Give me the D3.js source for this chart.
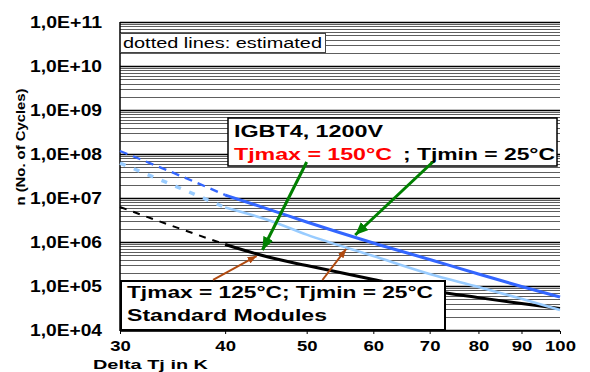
<!DOCTYPE html>
<html><head><meta charset="utf-8">
<script src="https://cdn.jsdelivr.net/npm/d3@7"></script>
<style>body{margin:0;background:#fff} svg{display:block} text{font-family:"Liberation Sans",Arial,Helvetica,sans-serif}</style>
</head><body><svg id="c" width="590" height="372"></svg>
<script>
// ---- data ----
const deltaT = [30, 35, 40, 45, 50, 60, 70, 80, 90, 100];
const igbt4Upper = [1.17e8, 3.5e7, 1.17e7, 5.6e6, 2.85e6, 9.5e5, 4.0e5, 1.87e5, 9.75e4, 5.6e4];
const igbt4Lower = [6.24e7, 1.82e7, 6.08e6, 3.16e6, 1.47e6, 4.8e5, 1.87e5, 9.5e4, 5.1e4, 2.85e4];
const standardModules = [6.24e6, 2.15e6, 8.8e5, 4.56e5, 2.91e5, 1.41e5, 7.9e4, 5.44e4, 3.98e4, 3.08e4];
const estimatedUpTo = 40;
const xTicks = [30, 40, 50, 60, 70, 80, 90, 100];
const yTicks = [1e4, 1e5, 1e6, 1e7, 1e8, 1e9, 1e10, 1e11];
const yTickLabels = ["1,0E+04", "1,0E+05", "1,0E+06", "1,0E+07", "1,0E+08", "1,0E+09", "1,0E+10", "1,0E+11"];
// annotation arrows (data coords): [from, to]
const greenArrows = [[[50.0, 6.58e7], [44.3, 6.58e5]], [[70.6, 6.58e7], [57.1, 1.44e6]]];
const brownArrows = [[[38.7, 1.37e5], [43.6, 4.8e5]], [[52.2, 1.37e5], [55.7, 6.93e5]]];

// ---- layout ----
const L = 120, R = 560, T = 22, B = 330;
const svg = d3.select("#c");
const x = d3.scaleLog().domain([30, 100]).range([L, R]);
const y = d3.scaleLog().domain([1e4, 1e11]).range([B, T]);

// gridlines
const grid = [];
for (let d = 4; d <= 10; d++) for (let m = 1; m <= 9; m++) grid.push(m * Math.pow(10, d));
grid.push(1e11);
const isMajor = d => Math.abs(Math.log10(d) - Math.round(Math.log10(d))) < 1e-9;
svg.append("g").selectAll("line").data(grid).join("line")
  .attr("x1", L).attr("x2", R)
  .attr("y1", d => Math.round(y(d)) + 0.5).attr("y2", d => Math.round(y(d)) + 0.5)
  .attr("stroke", d => isMajor(d) ? "#000" : "#5e5e5e")
  .attr("stroke-width", d => isMajor(d) ? 1.5 : 1.2);

// axes lines
svg.append("line").attr("x1", L).attr("x2", L).attr("y1", T).attr("y2", B + 1).attr("stroke", "#000").attr("stroke-width", 1.5);
svg.append("line").attr("x1", L).attr("x2", R).attr("y1", B + 1).attr("y2", B + 1).attr("stroke", "#000").attr("stroke-width", 1.5);

// y tick labels
const ya = svg.append("g").attr("transform", `translate(${L},0)`)
  .call(d3.axisLeft(y).tickValues(yTicks).tickFormat((d, i) => yTickLabels[i]).tickSize(0).tickPadding(18));
ya.select(".domain").remove();
ya.selectAll("text").attr("font-size", 16).attr("font-weight", "bold").attr("fill", "#000")
  .attr("font-family", "Liberation Sans, Arial, sans-serif")
  .attr("textLength", 72).attr("lengthAdjust", "spacingAndGlyphs").attr("dy", "0.33em");

// x tick labels
const xa = svg.append("g").attr("transform", `translate(0,${B + 1})`)
  .call(d3.axisBottom(x).tickValues(xTicks).tickFormat(d3.format("d")).tickSize(3).tickPadding(7));
xa.select(".domain").remove();
xa.selectAll("line").attr("stroke", "#000");
xa.selectAll("text").attr("font-size", 14.5).attr("font-weight", "bold").attr("fill", "#000")
  .attr("font-family", "Liberation Sans, Arial, sans-serif")
  .attr("textLength", d => String(d).length * 10.3).attr("lengthAdjust", "spacingAndGlyphs");

// axis titles
svg.append("text").attr("x", 93).attr("y", 369).attr("font-size", 13.5).attr("font-weight", "bold")
  .attr("textLength", 115).attr("lengthAdjust", "spacingAndGlyphs").text("Delta Tj in K");
svg.append("text").attr("transform", "translate(25,147) rotate(-90)").attr("text-anchor", "middle")
  .attr("font-size", 13.5).attr("font-weight", "bold")
  .attr("textLength", 117).attr("lengthAdjust", "spacingAndGlyphs").text("n (No. of Cycles)");

// curves
const line = d3.line().x(d => x(d[0])).y(d => y(d[1])).curve(d3.curveMonotoneX);
function drawSeries(vals, color, w, dashW, dash) {
  const pts = deltaT.map((t, i) => [t, vals[i]]);
  svg.append("path").attr("d", line(pts.filter(p => p[0] <= estimatedUpTo)))
    .attr("fill", "none").attr("stroke", color).attr("stroke-width", dashW).attr("stroke-dasharray", dash);
  svg.append("path").attr("d", line(pts.filter(p => p[0] >= estimatedUpTo)))
    .attr("fill", "none").attr("stroke", color).attr("stroke-width", w);
}
drawSeries(standardModules, "#000000", 3, 2, "7,7");
drawSeries(igbt4Lower, "#99ccff", 2.6, 3.5, "6,9");
drawSeries(igbt4Upper, "#3366ff", 3, 2.4, "8,6");

// dotted-lines box
svg.append("rect").attr("x", 120.5).attr("y", 33.5).attr("width", 205).attr("height", 19)
  .attr("fill", "#fff").attr("stroke", "#444").attr("stroke-width", 1);
svg.append("text").attr("x", 123).attr("y", 48).attr("font-size", 14)
  .attr("textLength", 199).attr("lengthAdjust", "spacingAndGlyphs").text("dotted lines: estimated");

// box 1
svg.append("rect").attr("x", 228).attr("y", 118).attr("width", 329).attr("height", 48)
  .attr("fill", "#fff").attr("stroke", "#000").attr("stroke-width", 1.5);
svg.append("text").attr("x", 234).attr("y", 137).attr("font-size", 16).attr("font-weight", "bold")
  .attr("textLength", 149).attr("lengthAdjust", "spacingAndGlyphs").text("IGBT4, 1200V");
svg.append("text").attr("x", 234).attr("y", 160).attr("font-size", 16).attr("font-weight", "bold").attr("fill", "#ff0000")
  .attr("textLength", 158).attr("lengthAdjust", "spacingAndGlyphs").text("Tjmax = 150°C");
svg.append("text").attr("x", 403).attr("y", 160).attr("font-size", 16).attr("font-weight", "bold")
  .attr("textLength", 152).attr("lengthAdjust", "spacingAndGlyphs").text("; Tjmin = 25°C");

// box 2
svg.append("rect").attr("x", 121).attr("y", 281).attr("width", 324).attr("height", 49)
  .attr("fill", "#fff").attr("stroke", "#000").attr("stroke-width", 2);
svg.append("text").attr("x", 127).attr("y", 298).attr("font-size", 17).attr("font-weight", "bold")
  .attr("textLength", 306).attr("lengthAdjust", "spacingAndGlyphs").text("Tjmax = 125°C; Tjmin = 25°C");
svg.append("text").attr("x", 127).attr("y", 321).attr("font-size", 17).attr("font-weight", "bold")
  .attr("textLength", 200).attr("lengthAdjust", "spacingAndGlyphs").text("Standard Modules");

// arrows
const defs = svg.append("defs");
function marker(id, color, len, wid) {
  defs.append("marker").attr("id", id).attr("markerUnits", "userSpaceOnUse")
    .attr("viewBox", `0 0 ${len} ${wid}`).attr("refX", len).attr("refY", wid / 2)
    .attr("markerWidth", len).attr("markerHeight", wid).attr("orient", "auto")
    .append("path").attr("d", `M0,0L${len},${wid / 2}L0,${wid}Z`).attr("fill", color);
}
marker("ag", "#008000", 13, 11);
marker("ab", "#b04a10", 9, 7);
svg.append("g").selectAll("line").data(greenArrows).join("line")
  .attr("x1", d => x(d[0][0])).attr("y1", d => y(d[0][1]))
  .attr("x2", d => x(d[1][0])).attr("y2", d => y(d[1][1]))
  .attr("stroke", "#008000").attr("stroke-width", 3).attr("marker-end", "url(#ag)");
svg.append("g").selectAll("line").data(brownArrows).join("line")
  .attr("x1", d => x(d[0][0])).attr("y1", d => y(d[0][1]))
  .attr("x2", d => x(d[1][0])).attr("y2", d => y(d[1][1]))
  .attr("stroke", "#b04a10").attr("stroke-width", 2).attr("marker-end", "url(#ab)");
</script></body></html>
